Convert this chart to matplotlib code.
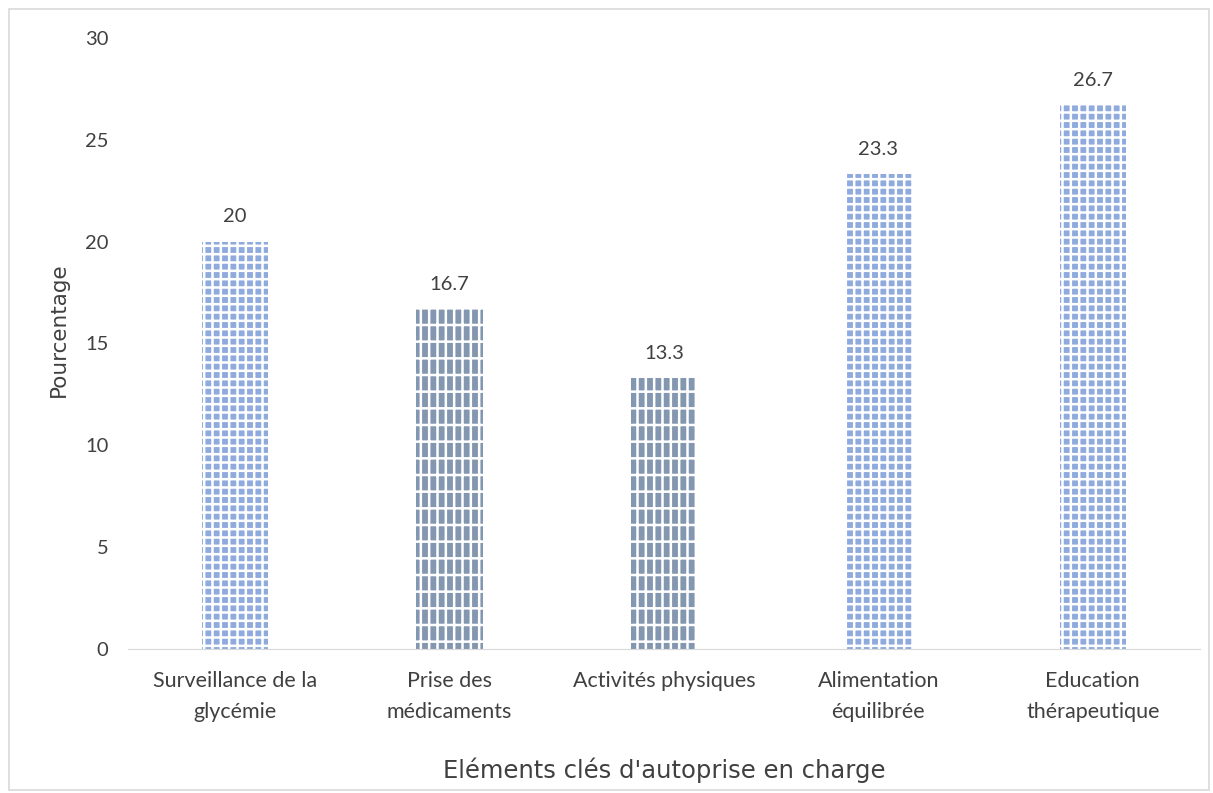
import matplotlib.pyplot as plt
from matplotlib.patches import Rectangle

categories = ["Surveillance de la\nglycémie", "Prise des\nmédicaments", "Activités physiques",
              "Alimentation\néquilibrée", "Education\nthérapeutique"]
values = [20, 16.7, 13.3, 23.3, 26.7]
labels = ["20", "16.7", "13.3", "23.3", "26.7"]
bar_colors = ["#8FAADC", "#8497B0", "#8497B0", "#8FAADC", "#8FAADC"]
hatches = ["++", "||-", "||-", "++", "++"]

plt.rcParams['font.family'] = ['Lato', 'DejaVu Sans']
plt.rcParams['hatch.color'] = 'white'
plt.rcParams['hatch.linewidth'] = 1.8

fig = plt.figure(figsize=(12.13, 7.93), dpi=100)
ax = fig.add_axes([128 / 1213, 1 - 649 / 793, (1200 - 128) / 1213, (649 - 38) / 793])

x = range(len(categories))
bars = ax.bar(x, values, width=0.31, color=bar_colors, linewidth=0)
for b, h in zip(bars, hatches):
    b.set_hatch(h)
    b.set_edgecolor('white')

# étiquettes de valeurs
for xi, v, lab in zip(x, values, labels):
    ax.text(xi, v + 0.8, lab, ha='center', va='bottom', fontsize=14.5, color='#404040')

ax.set_xlim(-0.5, 4.5)
ax.set_ylim(0, 30)
ax.set_yticks(range(0, 31, 5))
ax.set_xticks(list(x))
ax.set_xticklabels(categories, fontsize=15.5, color='#404040', linespacing=1.65)
ax.tick_params(axis='y', labelsize=14.5, labelcolor='#404040', length=0, pad=14)
ax.tick_params(axis='x', length=0, pad=16)
for s in ['top', 'right', 'left']:
    ax.spines[s].set_visible(False)
ax.spines['bottom'].set_color('#D9D9D9')

ax.set_ylabel("Pourcentage", fontsize=15.5, color='#404040', family='DejaVu Sans')
ax.yaxis.set_label_coords(-0.055, 0.522)
ax.set_xlabel("Eléments clés d'autoprise en charge", fontsize=17.5, color='#404040', labelpad=26,
              family='DejaVu Sans')

fig.patches.append(Rectangle((9 / 1213, 3 / 793), 1200 / 1213, 781 / 793, transform=fig.transFigure,
                             fill=False, edgecolor='#D9D9D9', linewidth=1.2))

fig.savefig("out.png", dpi=100)
